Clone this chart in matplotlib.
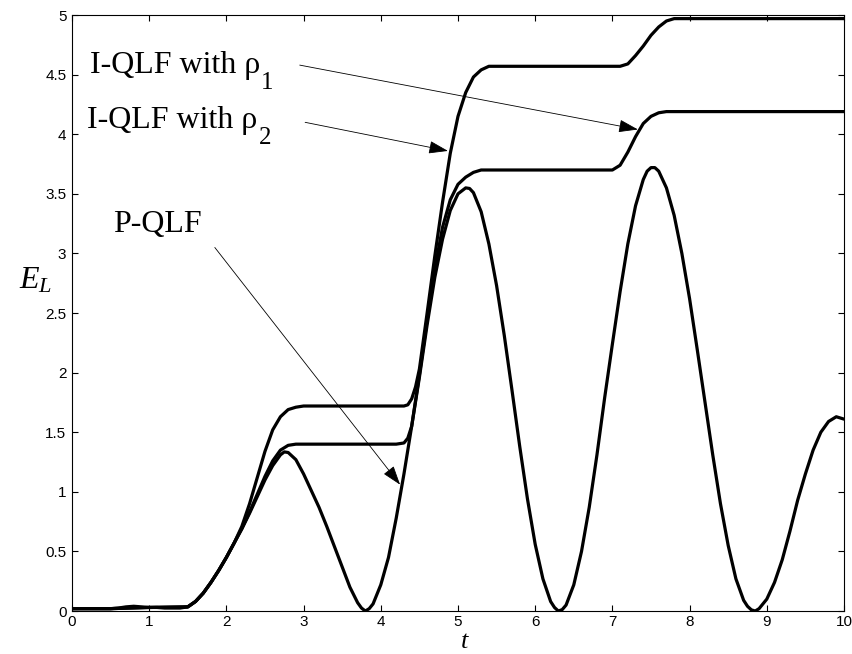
import matplotlib
matplotlib.use("Agg")
import matplotlib.pyplot as plt
import matplotlib.ticker as mtick
from matplotlib.transforms import offset_copy

plt.rcParams['font.family'] = 'Liberation Sans'
plt.rcParams['mathtext.fontset'] = 'custom'
plt.rcParams['mathtext.rm'] = 'Liberation Serif'
plt.rcParams['mathtext.it'] = 'Liberation Serif:italic'

# P-QLF, sampled every 0.1 ...
t_grid = [i / 10 for i in range(101)]
e_grid = [0.02, 0.02, 0.02, 0.02, 0.02, 0.02, 0.025, 0.035, 0.04, 0.035,
          0.03, 0.03, 0.025, 0.025, 0.025, 0.035, 0.08, 0.15, 0.24, 0.34,
          0.45, 0.57, 0.69, 0.82, 0.96, 1.10, 1.22, 1.31, 1.33, 1.27,
          1.15, 1.01, 0.87, 0.71, 0.54, 0.37, 0.20, 0.07, 0.0, 0.06,
          0.22, 0.45, 0.78, 1.15, 1.55, 1.96, 2.40, 2.80, 3.12, 3.36,
          3.50, 3.55, 3.51, 3.35, 3.08, 2.73, 2.31, 1.85, 1.38, 0.94,
          0.56, 0.27, 0.08, 0.0, 0.05, 0.22, 0.50, 0.87, 1.31, 1.79,
          2.24, 2.68, 3.08, 3.40, 3.62, 3.72, 3.69, 3.55, 3.32, 3.00,
          2.62, 2.19, 1.75, 1.31, 0.90, 0.55, 0.27, 0.09, 0.01, 0.02,
          0.10, 0.24, 0.43, 0.67, 0.93, 1.15, 1.35, 1.50, 1.59, 1.63,
          1.61]
# ... plus extra readings around the minima and peaks
t_extra = [2.75, 3.75, 3.85, 5.15, 6.25, 6.35, 7.45, 7.55, 8.75, 8.85]
e_extra = [1.335, 0.025, 0.02, 3.545, 0.03, 0.012, 3.69, 3.72, 0.04, 0.0]

# I-QLF with rho_2
t_r2 = [0, 0.5, 1.0, 1.5, 1.6, 1.7, 1.8, 1.9, 2.0, 2.1, 2.2, 2.3, 2.4, 2.5,
        2.6, 2.7, 2.8, 2.9, 4.2, 4.3, 4.35, 4.4, 4.5, 4.6, 4.7, 4.8, 4.9,
        5.0, 5.1, 5.2, 5.3, 5.4, 7.0, 7.1, 7.2, 7.3, 7.4, 7.5, 7.6, 7.7, 10.0]
e_r2 = [0.02, 0.02, 0.03, 0.035, 0.08, 0.15, 0.24, 0.34, 0.45, 0.57, 0.69,
        0.83, 0.98, 1.13, 1.26, 1.35, 1.39, 1.40, 1.40, 1.41, 1.45, 1.55,
        1.98, 2.44, 2.87, 3.22, 3.45, 3.58, 3.64, 3.68, 3.70, 3.70, 3.70,
        3.74, 3.85, 3.98, 4.09, 4.15, 4.18, 4.19, 4.19]

# I-QLF with rho_1
t_r1 = [0, 0.5, 1.0, 1.5, 1.6, 1.7, 1.8, 1.9, 2.0, 2.1, 2.2, 2.3, 2.4, 2.5,
        2.6, 2.7, 2.8, 2.9, 3.0, 4.3, 4.35, 4.4, 4.45, 4.5, 4.6, 4.7, 4.8,
        4.9, 5.0, 5.1, 5.2, 5.3, 5.4, 5.5, 7.1, 7.2, 7.3, 7.4, 7.5, 7.6,
        7.7, 7.8, 7.9, 10.0]
e_r1 = [0.02, 0.02, 0.03, 0.035, 0.08, 0.15, 0.24, 0.34, 0.45, 0.57, 0.71,
        0.90, 1.12, 1.34, 1.52, 1.63, 1.69, 1.71, 1.72, 1.72, 1.73, 1.78,
        1.88, 2.03, 2.50, 2.98, 3.43, 3.84, 4.15, 4.35, 4.48, 4.54, 4.57,
        4.57, 4.57, 4.59, 4.66, 4.74, 4.83, 4.90, 4.95, 4.97, 4.97, 4.97]

labels = ['I-QLF with ρ', 'I-QLF with ρ', 'P-QLF']
subs = ['1', '2', '']

pts = sorted(zip(t_grid + t_extra, e_grid + e_extra))
t_p = [p[0] for p in pts]
e_p = [p[1] for p in pts]

fig = plt.figure(figsize=(8.52, 6.54), dpi=100)
ax = fig.add_axes([0.0845, 0.0657, 0.9061, 0.9113])

for t, e in [(t_p, e_p), (t_r2, e_r2), (t_r1, e_r1)]:
    ax.plot(t, e, color='black', lw=2.3, solid_capstyle='round', solid_joinstyle='round')

ax.set_xlim(0, 10)
ax.set_ylim(0, 5)
ax.set_xticks(range(11))
ax.set_yticks([i * 0.5 for i in range(11)])
fmt = mtick.FuncFormatter(lambda v, p: '%g' % v)
ax.xaxis.set_major_formatter(fmt)
ax.yaxis.set_major_formatter(fmt)
ax.tick_params(direction='in', length=4, width=0.8, labelsize=11, pad=4,
               top=True, right=True)
ax.tick_params(axis='x', pad=3)
for s in ax.spines.values():
    s.set_linewidth(0.8)

ax.set_xlabel('$t$', fontsize=19)
ax.xaxis.set_label_coords(0.509, -0.030)
ax.set_ylabel('$E_L$', fontsize=23, rotation=0, ha='center', va='center')
ax.yaxis.set_label_coords(-0.047, 0.555)

# annotation texts, subscript placed by hand so it drops like the original
fig.canvas.draw()
renderer = fig.canvas.get_renderer()
for (x, y), lab, sub in zip([(0.23, 4.51), (0.20, 4.05), (0.53, 3.18)], labels, subs):
    txt = ax.text(x, y, lab, ha='left', va='baseline',
                  family='Liberation Serif', fontsize=23)
    if sub:
        bb = txt.get_window_extent(renderer)
        xs, ys = ax.transData.inverted().transform((bb.x1 + 1, 0))[0], y
        tr = offset_copy(ax.transData, fig=fig, x=0, y=-11, units='points')
        ax.text(xs, ys, sub, ha='left', va='baseline', transform=tr,
                family='Liberation Serif', fontsize=18)

ap = dict(arrowstyle='-|>,head_length=1.2,head_width=0.4', lw=0.6,
          color='black', shrinkA=0, shrinkB=0, mutation_scale=10)
ax.annotate('', xy=(7.33, 4.04), xytext=(2.95, 4.58), arrowprops=ap)
ax.annotate('', xy=(4.87, 3.86), xytext=(3.02, 4.10), arrowprops=ap)
ax.annotate('', xy=(4.25, 1.06), xytext=(1.85, 3.05), arrowprops=ap)

fig.savefig('out.png', dpi=100)
